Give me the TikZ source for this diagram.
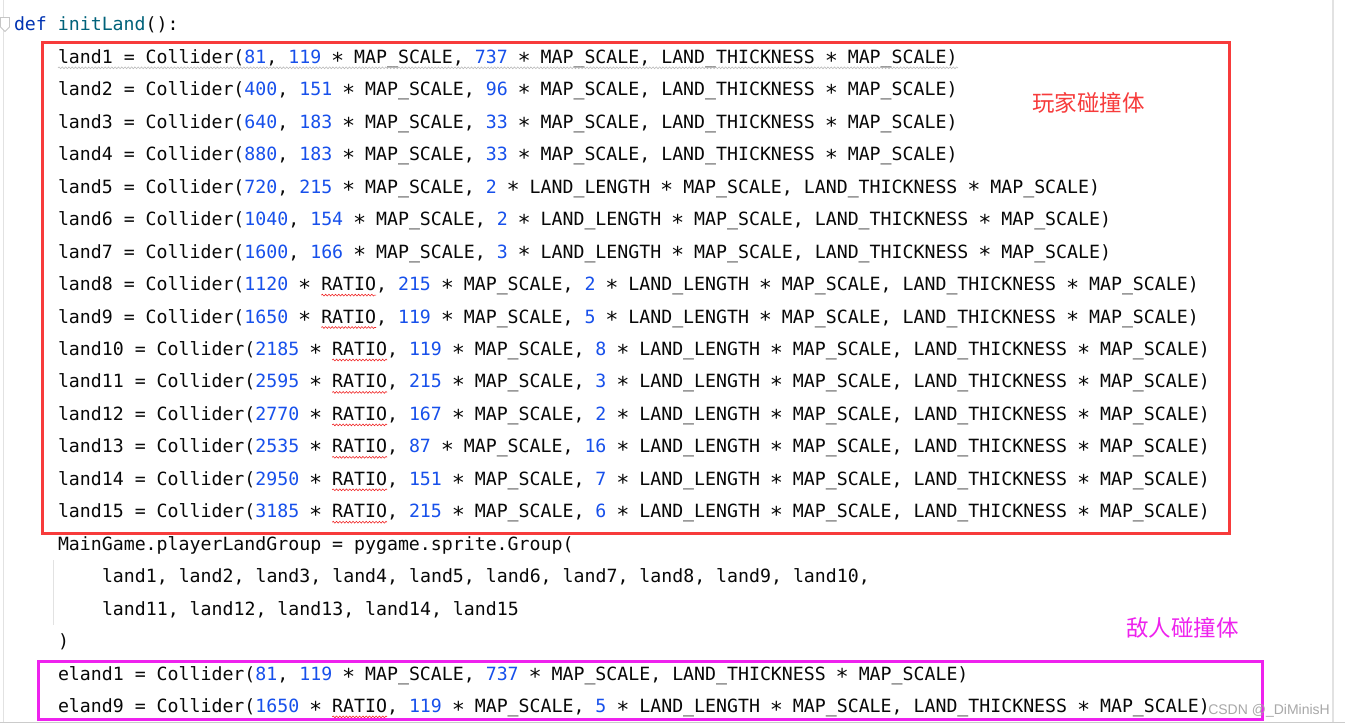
\documentclass[tikz,border=0pt]{standalone}
\usepackage{fontspec}
\setmonofont{DejaVu Sans Mono}
\newfontfamily\cjkfont{Noto Sans CJK SC}
\newfontfamily\wmfont{Liberation Sans}
\usetikzlibrary{decorations.pathmorphing}
\definecolor{codeblack}{HTML}{080808}
\definecolor{numblue}{HTML}{1750EB}
\definecolor{kwblue}{HTML}{0033B3}
\definecolor{fnteal}{HTML}{00627A}
\definecolor{boxred}{HTML}{F73B3B}
\definecolor{boxmag}{HTML}{EE22EE}
\definecolor{guidegray}{HTML}{E2E2E2}
\definecolor{warngray}{HTML}{B8B8B8}
\definecolor{typored}{HTML}{F02020}
\definecolor{wmgray}{HTML}{A8A8A8}
\newcommand\numc[1]{\textcolor{numblue}{#1}}
\newcommand\mystar{\makebox[0.60205em][c]{\raisebox{-0.26em}{\scalebox{1.2}{*}}}}
\newcommand\msc{MAP\_SCALE}
\newcommand\lle{LAND\_LENGTH}
\newcommand\tailpart{LAND\_THICKNESS \mystar\ MAP\_SCALE)}
\begin{document}
\begin{tikzpicture}[x=1pt,y=-1pt,
  code/.style={anchor=base west, inner sep=0pt, outer sep=0pt,
    font=\ttfamily\fontsize{18.22}{20}\selectfont, text=codeblack},
  typo/.style={draw=typored, line width=0.55pt, decorate,
    decoration={snake, amplitude=0.9pt, segment length=3.3pt}},
  warn/.style={draw=warngray, line width=0.55pt, decorate,
    decoration={snake, amplitude=0.9pt, segment length=3.3pt}},
  redbox/.style={draw=boxred, line width=3pt},
  magbox/.style={draw=boxmag, line width=3pt},
  cjklabel/.style={inner sep=0pt, font=\cjkfont\fontsize{22.5}{24}\selectfont}]
\useasboundingbox (0,0) rectangle (1345,725);
\fill[white] (0,0) rectangle (1345,725);
% editor chrome
\draw[guidegray, line width=1pt] (3.5,0) -- (3.5,722);
\draw[guidegray, line width=1.2pt] (1333,0) -- (1333,722);
\draw[guidegray!90!black, line width=1.2pt] (0,722.5) -- (1345,722.5);
\draw[guidegray, line width=1pt] (53.3,560) -- (53.3,625);
\filldraw[fill=white, draw=warngray!80, line width=0.8pt]
  (0.5,17.5) -- (9.5,17.5) -- (9.5,27) -- (5,31.5) -- (0.5,27) -- cycle;
% code
\node[code] (l0) at (14,31) {\textcolor{kwblue}{def} \textcolor{fnteal}{initLand}():};
\node[code] (l1) at (58,63.45) {land1 = Collider(\numc{81}, \numc{119} \mystar\ \msc, \numc{737} \mystar\ \msc, \tailpart};
\node[code] (l2) at (58,95.9) {land2 = Collider(\numc{400}, \numc{151} \mystar\ \msc, \numc{96} \mystar\ \msc, \tailpart};
\node[code] (l3) at (58,128.35) {land3 = Collider(\numc{640}, \numc{183} \mystar\ \msc, \numc{33} \mystar\ \msc, \tailpart};
\node[code] (l4) at (58,160.8) {land4 = Collider(\numc{880}, \numc{183} \mystar\ \msc, \numc{33} \mystar\ \msc, \tailpart};
\node[code] (l5) at (58,193.25) {land5 = Collider(\numc{720}, \numc{215} \mystar\ \msc, \numc{2} \mystar\ \lle\ \mystar\ \msc, \tailpart};
\node[code] (l6) at (58,225.7) {land6 = Collider(\numc{1040}, \numc{154} \mystar\ \msc, \numc{2} \mystar\ \lle\ \mystar\ \msc, \tailpart};
\node[code] (l7) at (58,258.15) {land7 = Collider(\numc{1600}, \numc{166} \mystar\ \msc, \numc{3} \mystar\ \lle\ \mystar\ \msc, \tailpart};
\node[code] (l8) at (58,290.6) {land8 = Collider(\numc{1120} \mystar\ RATIO, \numc{215} \mystar\ \msc, \numc{2} \mystar\ \lle\ \mystar\ \msc, \tailpart};
\node[code] (l9) at (58,323.05) {land9 = Collider(\numc{1650} \mystar\ RATIO, \numc{119} \mystar\ \msc, \numc{5} \mystar\ \lle\ \mystar\ \msc, \tailpart};
\node[code] (l10) at (58,355.5) {land10 = Collider(\numc{2185} \mystar\ RATIO, \numc{119} \mystar\ \msc, \numc{8} \mystar\ \lle\ \mystar\ \msc, \tailpart};
\node[code] (l11) at (58,387.95) {land11 = Collider(\numc{2595} \mystar\ RATIO, \numc{215} \mystar\ \msc, \numc{3} \mystar\ \lle\ \mystar\ \msc, \tailpart};
\node[code] (l12) at (58,420.4) {land12 = Collider(\numc{2770} \mystar\ RATIO, \numc{167} \mystar\ \msc, \numc{2} \mystar\ \lle\ \mystar\ \msc, \tailpart};
\node[code] (l13) at (58,452.85) {land13 = Collider(\numc{2535} \mystar\ RATIO, \numc{87} \mystar\ \msc, \numc{16} \mystar\ \lle\ \mystar\ \msc, \tailpart};
\node[code] (l14) at (58,485.3) {land14 = Collider(\numc{2950} \mystar\ RATIO, \numc{151} \mystar\ \msc, \numc{7} \mystar\ \lle\ \mystar\ \msc, \tailpart};
\node[code] (l15) at (58,517.75) {land15 = Collider(\numc{3185} \mystar\ RATIO, \numc{215} \mystar\ \msc, \numc{6} \mystar\ \lle\ \mystar\ \msc, \tailpart};
\node[code] (l16) at (58,550.2) {MainGame.playerLandGroup = pygame.sprite.Group(};
\node[code] (l17) at (102,582.65) {land1, land2, land3, land4, land5, land6, land7, land8, land9, land10,};
\node[code] (l18) at (102,615.1) {land11, land12, land13, land14, land15};
\node[code] (l19) at (58,647.55) {)};
\node[code] (l20) at (58,680) {eland1 = Collider(\numc{81}, \numc{119} \mystar\ \msc, \numc{737} \mystar\ \msc, \tailpart};
\node[code] (l21) at (58,712.45) {eland9 = Collider(\numc{1650} \mystar\ RATIO, \numc{119} \mystar\ \msc, \numc{5} \mystar\ \lle\ \mystar\ \msc, \tailpart};
% inspection underlines
\draw[warn] (58,67.8) -- (958,67.8);
\draw[typo] (321.3,295.1) -- (376.1,295.1);
\draw[typo] (321.3,327.5) -- (376.1,327.5);
\foreach \yy in {360,392.4,424.9,457.3,489.8,522.2,716.9}
  \draw[typo] (332.2,\yy) -- (387.1,\yy);
% boxes
\draw[redbox] (42.5,43) rectangle (1229.5,533);
\draw[magbox] (38,661.3) rectangle (1262.5,719);
% labels
\node[cjklabel, text=boxred] (playerlabel) at (1088.5,103) {玩家碰撞体};
\node[cjklabel, text=boxmag] (enemylabel) at (1182.5,628) {敌人碰撞体};
\node[inner sep=0pt, anchor=base east, text=wmgray, font=\wmfont\fontsize{14}{16}\selectfont] (wm) at (1330,714) {CSDN @\_DiMinisH};
\end{tikzpicture}
\end{document}
